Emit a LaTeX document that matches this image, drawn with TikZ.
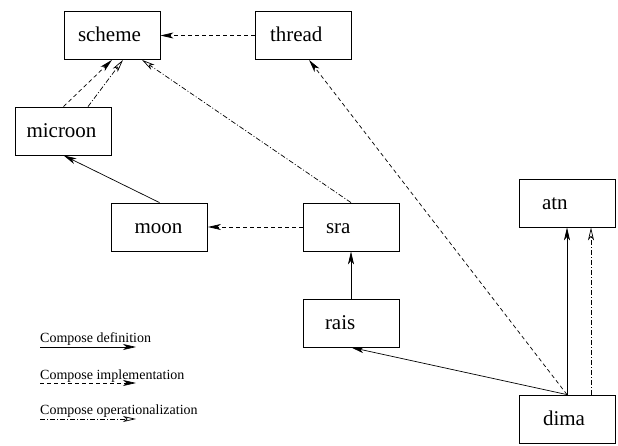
\documentclass[tikz,border=0pt]{standalone}
\usepackage{fontspec}
\setmainfont{LiberationSerif}[Extension=.ttf, UprightFont=*-Regular, BoldFont=*-Bold]
\usetikzlibrary{arrows.meta}
\tikzset{
  box/.style={draw, line width=0.8pt, minimum width=96pt, minimum height=48pt, inner sep=0pt,
    text height=13pt, text depth=0pt, font=\fontsize{21}{25}\selectfont},
  conn/.style={line width=0.7pt},
  defn/.style={conn, -{Stealth[length=13pt,width=6pt,inset=3.5pt]}},
  impl/.style={defn, dash pattern=on 4pt off 3pt},
  oper/.style={conn, -{Stealth[open,length=13pt,width=6pt,inset=3.5pt]}, dash pattern=on 5pt off 2pt on 1pt off 2pt},
  legtext/.style={anchor=base west, inner sep=0pt, font=\fontsize{14}{16}\selectfont}
}
\newcommand\bxt[2]{\makebox[96pt][l]{\hspace*{#1}#2}}
\begin{document}
\begin{tikzpicture}[x=1pt,y=-1pt]
\useasboundingbox (0,0) rectangle (618,446);
\node[box] (scheme)  at (112,35.5) {\bxt{14pt}{scheme}};
\node[box] (thread)  at (303,35.5) {\bxt{15pt}{thread}};
\node[box] (microon) at (63.5,131) {\bxt{11pt}{microon}};
\node[box] (moon)    at (159.5,227) {\bxt{23pt}{moon}};
\node[box] (sra)     at (351,227) {\bxt{23pt}{sra}};
\node[box] (rais)    at (351,323) {\bxt{22pt}{rais}};
\node[box] (atn)     at (567,203) {\bxt{23pt}{atn}};
\node[box] (dima)    at (567,419) {\bxt{24pt}{dima}};

\draw[impl] (thread.west) -- (scheme.east);
\draw[impl] (microon.north) -- (scheme.south);
\draw[oper] ([xshift=24.5pt]microon.north) -- ([xshift=11pt]scheme.south);
\draw[oper] (sra.north) -- ([xshift=30pt]scheme.south);
\draw[impl] (dima.north) -- ([xshift=6pt]thread.south);
\draw[defn] (moon.north) -- (microon.south);
\draw[impl] (sra.west) -- (moon.east);
\draw[defn] (rais.north) -- (sra.south);
\draw[defn] (dima.north) -- (rais.south);
\draw[defn] (dima.north) -- (atn.south);
\draw[oper] ([xshift=24pt]dima.north) -- ([xshift=24pt]atn.south);

\node[legtext] (l1) at (40,342) {Compose definition};
\node[legtext] (l2) at (40,379) {Compose implementation};
\node[legtext] (l3) at (40,414) {Compose operationalization};
\coordinate (a1) at (40,347); \coordinate (b1) at (136,347);
\coordinate (a2) at (40,383); \coordinate (b2) at (136,383);
\coordinate (a3) at (40,419); \coordinate (b3) at (136,419);
\draw[defn] (a1) -- (b1);
\draw[impl] (a2) -- (b2);
\draw[oper] (a3) -- (b3);
\end{tikzpicture}
\end{document}
